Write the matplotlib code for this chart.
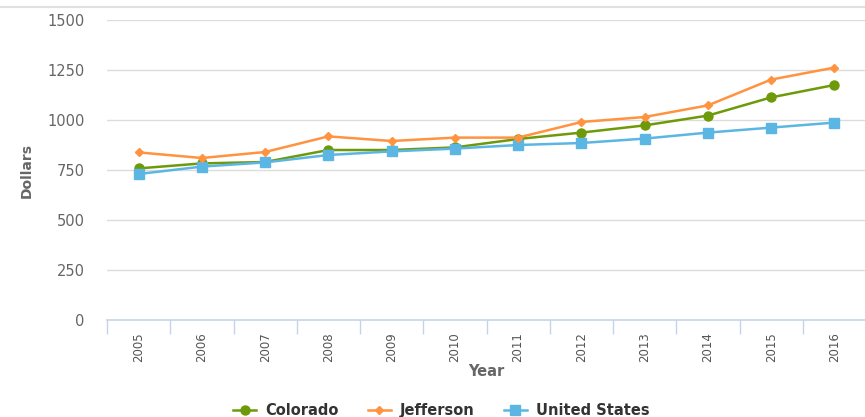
import numpy as np
import matplotlib
matplotlib.use("Agg")
import matplotlib.pyplot as plt
from matplotlib.lines import Line2D

years = ['2005', '2006', '2007', '2008', '2009', '2010',
         '2011', '2012', '2013', '2014', '2015', '2016']
colorado = [758, 783, 790, 850, 850, 863, 905, 937, 973, 1022, 1113, 1175]
jefferson = [838, 810, 840, 918, 895, 912, 912, 990, 1015, 1073, 1202, 1262]
united_states = [730, 767, 788, 825, 843, 857, 875, 885, 907, 937, 962, 987]

plt.rcParams['font.family'] = ['DejaVu Sans']

fig = plt.figure(figsize=(8.65, 4.17), dpi=100)
ax = fig.add_axes([107/865, 1-320/417, 759/865, 300/417])

x = np.arange(len(years))
ax.plot(x, colorado, color='#6e9a0a', lw=1.8, marker='o', ms=6.5, label='Colorado', zorder=3)
ax.plot(x, jefferson, color='#ff9340', lw=1.8, marker='D', ms=4.2, label='Jefferson', zorder=4)
ax.plot(x, united_states, color='#5cb6e4', lw=1.8, marker='s', ms=7, label='United States', zorder=3)

ax.set_xlim(-0.5, 11.5)
ax.set_ylim(0, 1500)
ax.set_yticks([0, 250, 500, 750, 1000, 1250, 1500])
for v in [250, 500, 750, 1000, 1250, 1500]:
    ax.axhline(v, color='#dcdcdc', lw=1, zorder=1)

ax.set_xticks(x)
ax.set_xticklabels(years, rotation=90, fontsize=8.5, color='#555555')
ax.set_xticks(np.arange(-0.5, 12, 1), minor=True)
ax.tick_params(axis='x', which='major', length=0, pad=9)
ax.tick_params(axis='x', which='minor', length=10, color='#c4d4e6', width=1)
ax.tick_params(axis='y', length=0, pad=16, labelsize=10.5, labelcolor='#666666')

for s in ['top', 'right', 'left']:
    ax.spines[s].set_visible(False)
ax.spines['bottom'].set_color('#c4d4e6')
ax.spines['bottom'].set_linewidth(1.2)

ax.set_xlabel('Year', fontsize=10.5, fontweight='bold', color='#666666', labelpad=1)
ax.set_ylabel('Dollars', fontsize=10, fontweight='bold', color='#666666', labelpad=10)

# faint rule left from the cropped title area
fig.add_artist(Line2D([0, 1], [1-7/417, 1-7/417], color='#e0e0e0', lw=1.5,
                      transform=fig.transFigure))

fig.legend(loc='lower center', bbox_to_anchor=(0.51, -0.035), ncol=3, frameon=False,
           prop={'weight': 'bold', 'size': 10.5}, handlelength=1.6, handletextpad=0.6,
           columnspacing=2.0, labelcolor='#333333')

fig.savefig('out.png', dpi=100)
